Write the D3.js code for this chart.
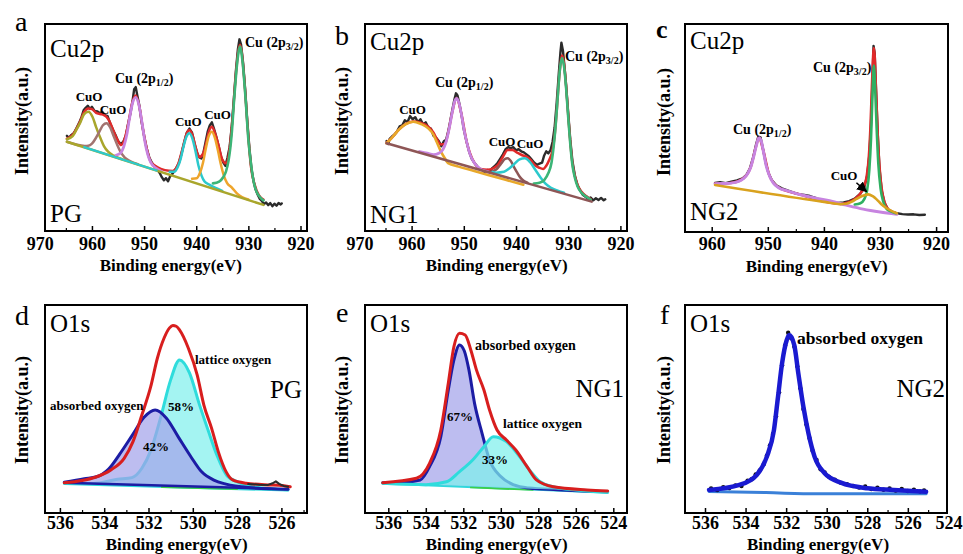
<!DOCTYPE html>
<html><head><meta charset="utf-8">
<script src="https://cdn.jsdelivr.net/npm/d3@7"></script>
<style>
body{margin:0;background:#fff;}
svg{display:block;font-family:"Liberation Serif","Times New Roman",serif;}
</style></head><body>
<svg id="chart" width="963" height="554"></svg>
<script>
// ---------- tick labels ----------
const topTicks = [970, 960, 950, 940, 930, 920];
const topMinor = [965, 955, 945, 935, 925];
const cTicks = [960, 950, 940, 930, 920];
const cMinor = [955, 945, 935, 925];
const dTicks = [536, 534, 532, 530, 528, 526];
const efTicks = [536, 534, 532, 530, 528, 526, 524];
const oMinor = [535, 533, 531, 529, 527, 525];

// ---------- panel a (PG, Cu2p) [eV, intensity] ----------
const aBlack = [[964.8,46.0],[964.4,45.0],[964.0,46.3],[963.5,47.2],[963.0,49.5],[962.5,52.0],[962.0,55.0],[961.6,58.3],[961.2,59.5],[960.8,60.5],[960.4,59.0],[960.0,60.0],[959.5,58.0],[959.0,57.8],[958.5,57.0],[958.0,57.5],[957.5,56.0],[957.0,55.5],[956.5,52.0],[956.0,49.0],[955.5,46.5],[955.0,43.5],[954.5,42.0],[954.0,43.0],[953.5,46.0],[953.0,52.5],[952.6,57.0],[952.2,63.0],[951.9,68.5],[951.6,69.5],[951.3,65.5],[950.9,60.5],[950.5,53.0],[950.0,46.0],[949.5,40.0],[949.0,35.5],[948.5,33.0],[948.0,31.0],[947.5,30.0],[947.0,28.0],[946.6,26.0],[946.2,24.5],[945.8,25.5],[945.4,24.0],[945.0,26.5],[944.6,27.5],[944.2,29.0],[943.8,30.5],[943.3,33.0],[942.8,37.5],[942.3,43.0],[941.8,47.5],[941.3,49.5],[940.8,47.5],[940.3,42.0],[939.8,37.5],[939.4,35.5],[939.0,35.0],[938.6,38.0],[938.2,43.0],[937.8,48.0],[937.4,51.0],[937.0,52.5],[936.6,49.5],[936.2,46.0],[935.7,41.0],[935.2,35.5],[934.8,33.0],[934.4,31.5],[934.0,35.5],[933.6,40.5],[933.2,50.0],[932.8,63.0],[932.4,77.0],[932.0,88.0],[931.7,92.6],[931.4,90.0],[931.0,81.0],[930.6,68.0],[930.2,53.0],[929.8,40.0],[929.4,30.0],[929.0,24.0],[928.6,20.0],[928.2,17.5],[927.8,15.5],[927.4,14.5],[927.0,13.0],[926.6,13.8],[926.2,12.5],[925.8,13.5],[925.4,12.0],[925.0,13.2],[924.6,12.2],[924.2,13.5],[923.8,12.8],[923.6,13.3]];
const aRed = [[964.8,44.6],[963.6,46.7],[962.4,52.1],[961.5,57.4],[960.7,59.2],[960.0,58.9],[959.2,57.1],[958.4,56.5],[957.7,56.0],[957.2,55.1],[956.5,52.3],[955.8,47.9],[955.1,44.0],[954.4,41.5],[953.7,44.7],[953.0,52.3],[952.3,61.7],[951.6,65.4],[950.9,60.0],[950.2,49.0],[949.5,39.8],[948.7,33.4],[947.5,30.9],[946.0,29.4],[944.5,29.0],[943.5,32.1],[942.5,40.9],[941.8,47.2],[941.3,48.8],[940.7,46.2],[940.0,39.3],[939.4,35.7],[938.7,37.2],[938.1,42.5],[937.5,48.6],[937.0,50.4],[936.4,47.3],[935.7,41.1],[935.0,34.5],[934.3,32.7],[933.6,39.6],[933.0,55.6],[932.4,75.6],[931.6,90.0],[930.8,73.8],[930.2,52.1],[929.5,31.1],[928.8,22.4],[928.0,17.3],[927.1,15.2]];
const aOlive = [[964.8,44.3],[963.7,45.8],[963.0,48.8],[962.2,52.6],[961.5,56.5],[960.7,57.6],[959.9,55.2],[959.2,50.2],[958.4,45.0],[957.7,41.0],[956.9,38.3],[955.8,36.4],[954.2,34.7]];
const aBrown = [[964.8,43.1],[961.4,41.1],[960.7,41.2],[960.0,42.2],[959.3,44.7],[958.6,47.9],[957.9,51.1],[957.2,52.1],[956.5,50.0],[955.8,45.6],[955.1,41.3],[954.4,37.7],[953.7,35.5],[952.7,33.8],[951.2,32.3]];
const aPurple = [[955.4,36.6],[954.5,37.7],[953.9,40.7],[953.3,46.7],[952.8,54.3],[952.2,61.9],[951.6,64.6],[951.0,61.0],[950.4,52.4],[949.9,44.0],[949.3,37.0],[948.7,33.0],[947.8,30.5],[946.7,28.8]];
const aCyan = [[945.1,28.6],[944.2,28.6],[943.6,30.6],[943.0,34.7],[942.5,40.1],[941.9,45.4],[941.3,47.2],[940.7,44.4],[940.1,38.1],[939.6,31.9],[939.0,26.9],[938.4,23.9],[937.5,22.4],[936.4,20.9],[935.0,19.4]];
const aOrange = [[940.8,25.3],[939.9,25.5],[939.3,28.0],[938.7,33.0],[938.2,39.4],[937.6,45.8],[937.0,48.0],[936.4,44.9],[935.8,38.5],[935.3,32.5],[934.7,26.8],[934.1,23.3],[933.2,21.1],[932.1,17.9],[930.0,15.2]];
const aGreen = [[936.8,23.0],[935.6,23.9],[934.8,26.1],[934.3,28.7],[933.8,34.0],[933.2,46.7],[932.7,64.5],[932.1,82.2],[931.6,89.1],[931.1,81.4],[930.5,62.7],[930.0,44.1],[929.4,30.5],[928.9,22.8],[928.4,18.8],[927.6,15.9],[927.1,14.8]];
const aBase = [[964.8,43.1],[927.1,12.6]];
const aCyanBase = [[961.5,40.5],[947.6,29.2]];

// ---------- panel b (NG1, Cu2p) ----------
const bBlack = [[964.8,43.5],[964.5,42.0],[964.2,44.5],[963.8,45.5],[963.3,46.5],[962.8,48.0],[962.3,50.5],[961.8,51.0],[961.3,53.5],[960.8,52.5],[960.3,55.5],[959.8,54.0],[959.3,55.0],[958.8,52.5],[958.3,54.0],[957.8,51.5],[957.3,52.5],[956.8,50.0],[956.3,49.5],[955.8,46.0],[955.3,45.0],[954.8,43.5],[954.3,41.0],[953.8,43.5],[953.4,44.0],[953.0,48.0],[952.6,53.0],[952.2,58.5],[951.8,63.5],[951.5,66.5],[951.2,65.5],[950.8,61.0],[950.4,55.5],[950.0,49.0],[949.5,43.5],[949.0,38.5],[948.5,35.0],[948.0,33.0],[947.5,31.5],[947.0,30.0],[946.5,29.5],[946.0,28.5],[945.5,29.5],[945.0,29.0],[944.5,30.5],[944.0,31.5],[943.5,33.0],[943.0,35.0],[942.5,37.0],[942.0,39.5],[941.5,40.5],[941.0,40.0],[940.5,40.5],[940.0,39.0],[939.5,39.5],[939.0,38.5],[938.5,38.0],[938.0,37.0],[937.5,36.0],[937.0,34.5],[936.5,33.0],[936.0,32.0],[935.5,32.5],[935.0,33.0],[934.6,36.5],[934.2,38.5],[933.8,37.5],[933.4,39.0],[933.0,43.0],[932.6,50.0],[932.2,62.0],[931.8,76.0],[931.5,86.0],[931.3,91.0],[931.0,87.0],[930.7,79.0],[930.4,70.5],[930.0,57.0],[929.6,44.0],[929.2,34.0],[928.7,26.5],[928.2,22.0],[927.7,19.5],[927.2,17.5],[926.7,16.5],[926.2,15.5],[925.7,16.2],[925.2,14.8],[924.7,15.8],[924.2,15.0],[923.7,16.0],[923.2,14.8],[922.9,15.3]];
const bRed = [[964.8,42.6],[963.8,45.0],[962.5,48.8],[961.2,51.6],[959.7,52.9],[958.3,52.3],[956.8,50.4],[955.8,47.5],[955.2,44.6],[954.4,41.8],[953.6,42.0],[953.0,47.4],[952.2,57.5],[951.4,64.3],[950.5,57.0],[949.4,42.5],[948.0,33.0],[946.8,30.0],[945.5,29.6],[944.4,30.3],[943.5,31.8],[942.5,35.9],[941.6,39.1],[940.7,39.1],[939.8,37.9],[938.8,36.6],[938.0,35.9],[937.2,34.3],[936.4,31.8],[935.5,30.5],[934.8,30.0],[934.2,31.5],[933.6,34.5],[933.0,39.0],[932.6,46.0],[932.2,58.0],[931.8,72.0],[931.5,80.0],[931.2,84.8],[930.8,80.8],[930.4,70.0],[930.0,56.0],[929.6,43.0],[929.2,33.0],[928.7,26.3],[928.2,22.2],[927.4,18.8],[926.5,16.8],[925.7,15.4]];
const bOrange = [[964.8,42.4],[963.8,45.0],[962.5,48.8],[961.2,51.5],[959.7,52.8],[958.3,51.8],[956.8,49.6],[955.8,46.5],[955.2,43.1],[954.4,38.5],[953.6,35.0],[953.0,32.8],[951.0,31.1],[948.0,29.0],[945.0,26.8],[942.0,24.7],[938.6,22.4]];
const bPurple = [[958.5,38.4],[957.0,37.6],[955.8,36.9],[954.8,37.6],[954.0,39.4],[953.4,43.0],[952.8,49.5],[952.2,57.5],[951.7,63.0],[951.4,64.1],[951.0,62.5],[950.5,57.0],[950.0,49.5],[949.4,42.5],[948.8,37.0],[948.0,33.0],[947.0,30.3],[945.8,28.9],[945.0,28.3]];
const bBrownPk = [[945.0,28.4],[944.4,28.9],[943.8,29.7],[943.2,31.4],[942.8,32.7],[942.2,34.7],[941.6,35.2],[941.0,33.8],[940.4,31.0],[939.8,28.3],[939.2,25.9],[938.6,24.4],[937.8,23.4]];
const bCyan = [[944.5,28.5],[943.8,28.2],[942.3,28.6],[941.3,30.2],[940.3,32.4],[939.3,34.6],[938.3,35.1],[937.3,33.2],[936.3,29.6],[935.3,25.9],[934.3,22.8],[933.3,20.9],[932.0,19.5],[930.8,18.5]];
const bGreen = [[936.6,22.9],[935.5,23.3],[934.6,24.6],[933.8,28.0],[933.2,33.0],[932.8,40.5],[932.4,51.0],[932.0,65.0],[931.6,78.0],[931.2,83.5],[930.8,79.5],[930.4,69.0],[930.0,55.0],[929.6,42.0],[929.2,32.0],[928.7,25.5],[928.2,21.5],[927.4,18.3],[926.5,16.5],[925.7,15.2]];
const bBase = [[964.8,42.4],[925.5,14.2]];

// ---------- panel c (NG2, Cu2p) ----------
const cBlack = [[959.4,23.6],[958.5,24.0],[957.5,23.5],[956.5,24.2],[955.5,24.8],[954.5,25.8],[953.8,27.5],[953.2,30.5],[952.6,36.0],[952.1,42.0],[951.7,45.8],[951.3,45.5],[950.9,40.5],[950.4,33.5],[949.9,28.5],[949.3,25.0],[948.5,22.5],[947.5,21.0],[946.5,20.0],[945.5,19.0],[944.5,18.2],[943.5,17.8],[942.5,17.3],[941.5,16.4],[940.5,15.2],[939.5,14.8],[938.5,14.3],[937.5,14.0],[936.5,14.2],[935.5,14.8],[934.5,16.0],[933.5,18.5],[932.8,21.5],[932.3,27.0],[931.9,37.0],[931.6,52.0],[931.35,72.0],[931.15,89.5],[930.95,86.0],[930.7,68.0],[930.4,47.0],[930.1,31.0],[929.7,20.0],[929.2,14.0],[928.6,11.0],[928.0,9.8],[927.0,9.0],[926.0,8.6],[925.0,8.4],[924.0,8.5],[923.0,8.2],[922.0,8.3]];
const cRed = [[959.4,23.3],[956.6,23.6],[954.3,25.9],[953.0,31.6],[952.0,42.1],[951.6,45.4],[950.8,39.1],[949.7,27.1],[948.0,21.3],[944.3,18.1],[940.0,14.6],[937.0,13.5],[936.0,14.0],[935.0,15.0],[934.2,16.5],[933.5,18.5],[932.9,21.5],[932.4,26.5],[932.0,36.0],[931.7,51.0],[931.45,70.0],[931.2,86.0],[931.1,88.5],[930.95,85.0],[930.7,68.0],[930.4,47.0],[930.1,32.0],[929.7,21.0],[929.2,14.5],[928.7,11.5],[928.0,10.0],[927.2,9.2]];
const cPurple = [[959.4,23.2],[958.0,23.3],[956.6,23.5],[955.2,24.3],[954.3,25.8],[953.6,28.0],[953.0,31.5],[952.5,36.5],[952.0,42.0],[951.6,45.3],[951.2,44.0],[950.8,39.0],[950.3,32.0],[949.7,27.0],[949.0,23.5],[948.0,21.2],[946.6,19.9],[944.3,18.0],[942.0,16.6],[939.0,15.0],[936.0,12.9],[933.0,11.0],[930.0,9.6],[927.0,8.5]];
const cGolden = [[959.4,22.6],[940.0,14.5],[937.0,13.4],[936.0,13.6],[935.0,14.6],[934.2,15.9],[933.2,17.3],[932.1,18.1],[931.3,17.2],[930.6,15.7],[929.8,13.5],[928.8,11.4],[927.0,9.0]];
const cGreen = [[934.5,13.2],[933.5,13.8],[932.8,15.8],[932.3,20.0],[931.9,30.0],[931.6,45.0],[931.35,65.0],[931.1,80.0],[930.85,68.0],[930.6,50.0],[930.3,33.0],[929.9,21.0],[929.4,14.5],[928.8,11.0],[928.0,9.8],[927.2,9.0]];
const cArrow = [[934.2,23.7],[932.4,19.4]];

// ---------- panel d (PG, O1s) ----------
const dRed = [[535.8,14.5],[535.0,15.6],[534.4,17.2],[533.7,20.7],[533.1,26.3],[532.7,34.3],[532.3,47.1],[531.9,60.7],[531.6,74.4],[531.3,84.0],[531.05,89.0],[530.9,90.2],[530.75,89.8],[530.6,88.0],[530.2,79.2],[529.8,66.3],[529.5,51.9],[529.15,40.7],[528.85,29.5],[528.5,19.9],[528.2,15.9],[527.6,14.3],[526.6,13.5],[526.1,13.3],[525.6,12.6]];
const dBlue = [[535.8,14.8],[534.9,16.5],[534.35,17.4],[533.8,21.1],[533.3,28.3],[532.75,37.1],[532.2,46.0],[531.7,49.5],[531.2,45.7],[530.65,36.5],[530.1,27.3],[529.6,19.8],[529.05,15.8],[528.5,13.9],[527.5,12.3],[525.7,11.4]];
const dCyan = [[535.8,14.4],[534.5,14.2],[533.4,16.2],[532.75,17.0],[532.3,21.5],[531.9,30.0],[531.45,46.0],[531.0,64.0],[530.6,73.6],[530.15,67.4],[529.7,52.1],[529.3,39.5],[528.9,27.5],[528.45,17.8],[528.0,15.1],[527.3,12.6],[525.7,11.2]];
const dBase = [[535.8,14.6],[525.7,11.4]];
const dBaseCyan = [[535.8,14.1],[525.7,10.9]];
const dGreen = [[531.4,12.5],[528.0,11.5]];
const dBlack = [[527.5,14.0],[527.0,13.6],[526.6,13.5],[526.4,14.3],[526.25,15.2],[526.1,14.0],[525.9,13.0],[525.7,12.6]];

// ---------- panel e (NG1, O1s) ----------
const eRed = [[536.3,14.6],[534.5,16.7],[533.8,23.9],[533.2,39.9],[532.8,62.4],[532.5,80.0],[532.2,86.4],[531.9,85.6],[531.6,78.4],[531.3,68.8],[530.9,59.1],[530.6,49.5],[530.2,39.9],[529.7,35.1],[529.2,30.3],[528.6,22.3],[528.1,15.9],[527.2,12.6],[525.4,11.1],[524.3,10.6]];
const eBlue = [[536.3,14.6],[535.2,14.8],[534.3,15.9],[533.8,22.3],[533.2,36.7],[532.8,59.1],[532.5,73.6],[532.2,80.8],[531.95,78.0],[531.7,68.8],[531.4,52.7],[531.0,38.3],[530.6,25.5],[530.0,17.5],[529.3,13.5],[528.5,12.0],[527.0,11.2],[524.3,10.2]];
const eCyan = [[536.3,14.3],[534.0,13.6],[532.9,15.0],[532.2,19.9],[531.5,25.5],[530.9,31.9],[530.4,36.7],[529.7,34.3],[529.0,27.1],[528.4,19.9],[527.9,15.0],[527.2,12.6],[526.0,11.0],[524.3,10.0]];
const eBase = [[536.3,14.6],[524.3,10.2]];
const eBaseCyan = [[536.3,14.3],[524.3,9.9]];
const eGreen = [[531.6,12.3],[528.3,11.1]];

// ---------- panel f (NG2, O1s) ----------
const fBlue = [[535.8,11.1],[534.3,13.5],[533.45,18.3],[532.95,27.1],[532.6,39.9],[532.4,55.9],[532.2,72.0],[531.97,83.2],[531.85,85.6],[531.6,80.8],[531.4,67.2],[531.15,51.1],[530.9,38.3],[530.6,27.1],[530.1,19.1],[529.3,14.6],[528.0,11.9],[526.7,11.1],[525.1,10.2]];
const fBase = [[535.8,10.3],[533.0,9.8],[530.5,9.2],[528.0,9.2],[525.1,9.2]];
const fDots = [[535.7,11.8],[535.4,11.0],[535.1,12.4],[534.8,12.0],[534.5,13.3],[534.2,13.0],[533.9,15.5],[533.7,16.2],[533.5,18.5],[533.3,20.5],[533.1,23.5],[532.95,27.5],[532.8,32.5],[532.65,38.0],[532.5,46.5],[532.35,58.0],[532.2,71.0],[532.05,80.5],[531.9,86.7],[531.75,84.0],[531.6,80.0],[531.45,70.5],[531.3,60.0],[531.15,50.0],[531.0,42.5],[530.85,36.0],[530.7,30.0],[530.5,25.5],[530.3,21.0],[530.1,19.5],[529.9,17.5],[529.6,16.0],[529.3,14.5],[529.0,13.8],[528.7,13.0],[528.4,12.2],[528.1,12.8],[527.8,11.5],[527.5,12.2],[527.2,11.2],[526.9,11.8],[526.6,10.8],[526.3,11.6],[526.0,10.6],[525.7,11.2],[525.4,10.4],[525.2,10.8]];

// ---------- drawing ----------
const SERIF = '"Liberation Serif","Times New Roman",serif';
const svg = d3.select('#chart');
const defs = svg.append('defs');
defs.append('marker').attr('id','arrowhead').attr('viewBox','0 0 10 10').attr('refX',9).attr('refY',5)
  .attr('markerWidth',7).attr('markerHeight',7).attr('orient','auto')
  .append('path').attr('d','M0,0 L10,5 L0,10 Z').attr('fill','#000');

const RED = '#e02a2a', BLK = '#2b2b2b';
const panels = [
 { id:'a', frame:[45,24,307,231], xd:[970,920], xr:[39.8,300.5], ticks:topTicks, minor:topMinor, pad:6,
   layers:[
    {data:aBlack,color:BLK,w:2.4,lin:true},{data:aRed,color:RED,w:2.5},
    {data:aOlive,color:'#a9a62c',w:2.5},{data:aBrown,color:'#a27470',w:2.5},
    {data:aPurple,color:'#c784e0',w:2.8},{data:aCyan,color:'#2cc9cc',w:2.5},
    {data:aOrange,color:'#eea52c',w:2.5},{data:aGreen,color:'#3cb577',w:2.6},
    {data:aBase,color:'#a9a62c',w:2.5},{data:aCyanBase,color:'#2cc9cc',w:2.2}],
   title:170.8, ytx:21.7, yty:121, letter:['a',15,31,28,'normal'],
   texts:[['Cu2p',50,57,25,'normal','start'],['PG',50,221.5,25,'normal','start'],
    ['CuO',89,101,13,'bold','middle'],['CuO',113,114,13,'bold','middle'],
    ['CuO',188.3,126,13,'bold','middle'],['CuO',217.5,119,13,'bold','middle']],
   cu:[['1/2',115,83],['3/2',245,47]] },
 { id:'b', frame:[365,24,627,231], xd:[970,920], xr:[359.4,620.4], ticks:topTicks, minor:topMinor, pad:6,
   layers:[
    {data:bBlack,color:BLK,w:2.4,lin:true},{data:bRed,color:RED,w:2.5},
    {data:bOrange,color:'#e8a82a',w:2.6},{data:bPurple,color:'#c784e0',w:2.8},
    {data:bBrownPk,color:'#8e5656',w:2.5},{data:bCyan,color:'#2cc9cc',w:2.5},
    {data:bGreen,color:'#3cb577',w:2.6},{data:bBase,color:'#8e5656',w:2.5}],
   title:496.7, ytx:341.7, yty:121, letter:['b',335,45,28,'normal'],
   texts:[['Cu2p',370,50,25,'normal','start'],['NG1',370,223,25,'normal','start'],
    ['CuO',412.5,114,13,'bold','middle'],['CuO',502,146,13,'bold','middle'],['CuO',530,148,13,'bold','middle']],
   cu:[['1/2',435,87],['3/2',565,61]] },
 { id:'c', frame:[685,24,948,232], xd:[960,920], xr:[711.7,936.1], ticks:cTicks, minor:cMinor, pad:5,
   layers:[
    {data:cBlack,color:BLK,w:2.4,lin:true},{data:cRed,color:RED,w:2.5},
    {data:cPurple,color:'#c784e0',w:3},{data:cGreen,color:'#2fb062',w:2.6},
    {data:cGolden,color:'#d9a21e',w:2.6}],
   arrow:cArrow,
   title:816.7, ytx:663.3, yty:122, letter:['c',656,38,26,'bold'],
   texts:[['Cu2p',690,49,25,'normal','start'],['NG2',690,220,25,'normal','start'],['CuO',844,180,13,'bold','middle']],
   cu:[['3/2',813,72],['1/2',733,134]] },
 { id:'d', frame:[45,305,307,513], xd:[536,526], xr:[59.9,281.4], ticks:dTicks, minor:oMinor, pad:3.2,
   layers:[
    {data:dBaseCyan,color:'#2fd8dc',w:2.5},{data:dGreen,color:'#3ccf4a',w:1.8},
    {type:'area',data:dCyan,base:dBase,color:'#7ef0ec',op:0.7},{data:dCyan,color:'#2fdcdc',w:3},
    {type:'area',data:dBlue,base:dBase,color:'#a4a4ea',op:0.72},{data:dBlue,color:'#1c1ca4',w:3},
    {data:dBase,color:'#1c1ca4',w:2.5},{data:dRed,color:'#d81e1e',w:3},{data:dBlack,color:BLK,w:2,lin:true}],
   title:176.7, ytx:21.7, yty:410, letter:['d',15,325,28,'normal'],
   texts:[['O1s',50,331.5,25,'normal','start'],['PG',302,398,25,'normal','end'],
    ['lattice oxygen',195,364,13,'bold','start'],['absorbed oxygen',50,410,13,'bold','start'],
    ['58%',181,411,13,'bold','middle'],['42%',156,451,13,'bold','middle']], cu:[] },
 { id:'e', frame:[365,305,627,513], xd:[536,524], xr:[388.3,613.3], ticks:efTicks, minor:oMinor, pad:3.2,
   layers:[
    {data:eBaseCyan,color:'#2fd8dc',w:2.5},{data:eGreen,color:'#3ccf4a',w:1.8},
    {type:'area',data:eBlue,base:eBase,color:'#a4a4ea',op:0.72},{data:eBlue,color:'#1c1ca4',w:3},
    {type:'area',data:eCyan,base:eBase,color:'#7ef0ec',op:0.72},{data:eCyan,color:'#2fdcdc',w:3},
    {data:eRed,color:'#d81e1e',w:3}],
   title:496.7, ytx:341.7, yty:410, letter:['e',336,322,28,'normal'],
   texts:[['O1s',370,331.5,25,'normal','start'],['NG1',624,397,25,'normal','end'],
    ['absorbed oxygen',475,350,14,'bold','start'],['lattice oxygen',503,428,13.5,'bold','start'],
    ['67%',460,421,13,'bold','middle'],['33%',495,464,13,'bold','middle']], cu:[] },
 { id:'f', frame:[685,305,947,513], xd:[536,524], xr:[705,948.4], ticks:efTicks, minor:oMinor, pad:3.2,
   layers:[
    {data:fBase,color:'#3a80d8',w:3},{type:'dots',data:fDots,color:'#111',r:2.2},
    {data:fBlue,color:'#1a1ad0',w:4.5}],
   title:818, ytx:663.3, yty:410, letter:['f',660,324,28,'normal'],
   texts:[['O1s',690,331.5,25,'normal','start'],['NG2',945,397,25,'normal','end'],
    ['absorbed oxygen',797,344,17.5,'bold','start']], cu:[] }
];

function addText(t, x, y, size, weight, anchor) {
  return svg.append('text').attr('x',x).attr('y',y).attr('font-size',size).attr('font-weight',weight)
    .attr('text-anchor',anchor).attr('font-family',SERIF).attr('fill','#000').text(t);
}

panels.forEach(p => {
  const [fx0, fy0, fx1, fy1] = p.frame;
  const x = d3.scaleLinear().domain(p.xd).range(p.xr);
  const y = d3.scaleLinear().domain([0,100]).range([fy1, fy0]);
  defs.append('clipPath').attr('id','clip-'+p.id).append('rect')
    .attr('x',fx0).attr('y',fy0).attr('width',fx1-fx0).attr('height',fy1-fy0);
  const plot = svg.append('g').attr('clip-path',`url(#clip-${p.id})`);
  const smooth = d3.line().x(d=>x(d[0])).y(d=>y(d[1])).curve(d3.curveMonotoneX);
  const straight = d3.line().x(d=>x(d[0])).y(d=>y(d[1]));
  p.layers.forEach(L => {
    if (L.type === 'area') {
      const base = d3.scaleLinear().domain(L.base.map(d=>d[0])).range(L.base.map(d=>d[1]));
      const area = d3.area().x(d=>x(d[0])).y0(d=>y(base(d[0]))).y1(d=>y(d[1])).curve(d3.curveMonotoneX);
      plot.append('path').datum(L.data).attr('d',area).attr('fill',L.color).attr('fill-opacity',L.op);
    } else if (L.type === 'dots') {
      plot.append('g').selectAll('circle').data(L.data).join('circle')
        .attr('cx',d=>x(d[0])).attr('cy',d=>y(d[1])).attr('r',L.r).attr('fill',L.color);
    } else {
      plot.append('path').datum(L.data).attr('d', L.lin ? straight : smooth)
        .attr('fill','none').attr('stroke',L.color).attr('stroke-width',L.w)
        .attr('stroke-linejoin','round').attr('stroke-linecap','round');
    }
  });
  if (p.arrow) {
    svg.append('path').datum(p.arrow).attr('d',straight).attr('stroke','#000').attr('stroke-width',1.5)
      .attr('fill','none').attr('marker-end','url(#arrowhead)');
  }
  svg.append('rect').attr('x',fx0).attr('y',fy0).attr('width',fx1-fx0).attr('height',fy1-fy0)
    .attr('fill','none').attr('stroke','#000').attr('stroke-width',2);
  const inside = v => x(v) > fx0 + 1.5 && x(v) < fx1 - 1.5;
  const ax = svg.append('g').attr('transform',`translate(0,${fy1})`)
    .call(d3.axisBottom(x).tickValues(p.ticks).tickSize(-5).tickPadding(p.pad));
  ax.select('.domain').remove();
  ax.attr('font-size',18).attr('font-family',SERIF).attr('font-weight','bold');
  ax.selectAll('.tick line').attr('stroke-width',1.5).attr('display', d => inside(d) ? null : 'none');
  ax.selectAll('text').attr('fill','#000');
  const mx = svg.append('g').attr('transform',`translate(0,${fy1})`)
    .call(d3.axisBottom(x).tickValues(p.minor).tickSize(-3).tickFormat(''));
  mx.select('.domain').remove();
  mx.selectAll('.tick line').attr('stroke-width',1.2).attr('display', d => inside(d) ? null : 'none');

  addText('Binding energy(eV)', p.title, fy1 + (fy1 < 300 ? 40 : 37), 17, 'bold', 'middle');
  svg.append('text').attr('transform',`translate(${p.ytx},${p.yty}) rotate(-90)`)
    .attr('text-anchor','middle').attr('dy','0.35em').attr('font-size',18).attr('font-weight','bold')
    .attr('font-family',SERIF).text('Intensity(a.u.)');
  const [lt, lx, ly, ls, lw] = p.letter;
  addText(lt, lx, ly, ls, lw, 'start');
  p.texts.forEach(t => addText(t[0], t[1], t[2], t[3], t[4], t[5]));
  p.cu.forEach(([sub, cx, cy]) => {
    const t = svg.append('text').attr('x',cx).attr('y',cy).attr('font-size',14).attr('font-weight','bold')
      .attr('font-family',SERIF).attr('fill','#000');
    t.append('tspan').text('Cu (2p');
    t.append('tspan').attr('dy',3).attr('font-size',10).text(sub);
    t.append('tspan').attr('dy',-3).text(')');
  });
});
</script>
</body></html>
